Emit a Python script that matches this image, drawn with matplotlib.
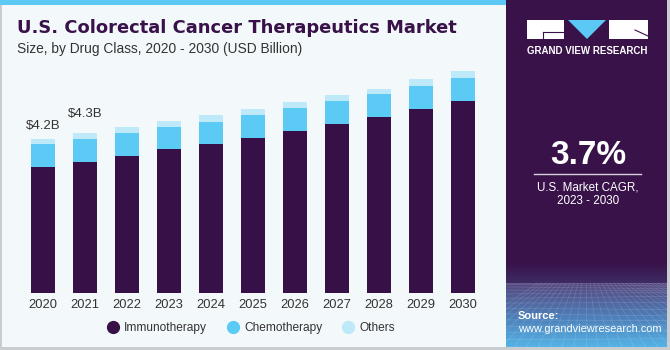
import matplotlib
matplotlib.use("Agg")
import matplotlib.pyplot as plt
import matplotlib.patches as mpatches
import numpy as np

years = ["2020", "2021", "2022", "2023", "2024", "2025", "2026", "2027", "2028", "2029", "2030"]
immunotherapy = [3.44, 3.57, 3.74, 3.92, 4.07, 4.23, 4.42, 4.60, 4.80, 5.01, 5.24]
chemotherapy = [0.62, 0.62, 0.61, 0.60, 0.60, 0.63, 0.62, 0.64, 0.63, 0.64, 0.62]
others = [0.14, 0.17, 0.17, 0.17, 0.17, 0.14, 0.16, 0.16, 0.14, 0.17, 0.19]
series_names = ["Immunotherapy", "Chemotherapy", "Others"]
value_labels = ["$4.2B", "$4.3B"]

C_IMM = "#381048"
C_CHE = "#5BCBF6"
C_OTH = "#BDE9F9"
BG = "#F3F8FB"
DARK = "#381249"

W, H = 670, 350
fig = plt.figure(figsize=(W / 100, H / 100), dpi=100)
fig.patch.set_facecolor("white")

# background layer in pixel coordinates
bg = fig.add_axes([0, 0, 1, 1])
bg.set_xlim(0, W)
bg.set_ylim(H, 0)
bg.axis("off")
bg.add_patch(mpatches.Rectangle((0, 0), 506, H, facecolor=BG, edgecolor="none"))
bg.add_patch(mpatches.Rectangle((0, 0), 2, H, facecolor="#C9CDD1", edgecolor="none"))
bg.add_patch(mpatches.Rectangle((0, 347), 506, 3, facecolor="#C9CDD1", edgecolor="none"))
bg.add_patch(mpatches.Rectangle((0, 0), 506, 5, facecolor="#5BC8F5", edgecolor="none"))
# right panel
bg.add_patch(mpatches.Rectangle((506, 0), 164, H, facecolor=DARK, edgecolor="none"))
g1 = np.linspace(0, 1, 50)[:, None]
cm1 = matplotlib.colors.LinearSegmentedColormap.from_list("g1", [DARK, "#3E2B62"])
bg.imshow(g1, extent=(506, 670, 283, 262), cmap=cm1, aspect="auto", zorder=1)
g2 = np.linspace(0, 1, 100)[:, None]
cm2 = matplotlib.colors.LinearSegmentedColormap.from_list("g2", ["#54477E", "#4E7EB8", "#55B8EA"])
bg.imshow(g2, extent=(506, 670, 350, 283), cmap=cm2, aspect="auto", zorder=1)
# faint mesh
for k in range(14):
    yy = 283 + (k / 13) ** 1.5 * 64
    bg.plot([506, 667], [yy, yy + 2 * np.sin(k)], color="white", lw=0.4, alpha=0.18, zorder=1.5)
for k in range(-12, 26):
    x0 = 586 + k * 4
    x1 = 586 + k * 12
    bg.plot([x0, x1], [283, 347], color="white", lw=0.4, alpha=0.18, zorder=1.5)
bg.add_patch(mpatches.Rectangle((667, 0), 3, H, facecolor="#C9CDD1", edgecolor="none", zorder=2))
bg.add_patch(mpatches.Rectangle((506, 347), 164, 3, facecolor="#C9CDD1", edgecolor="none", zorder=2))

# logo
bg.add_patch(mpatches.Rectangle((527, 20), 37, 19, facecolor="white", edgecolor="none", zorder=3))
bg.add_patch(mpatches.Polygon([(568, 20), (606, 20), (587, 39)], closed=True,
                              facecolor="#5BC8F5", edgecolor="none", zorder=3))
bg.add_patch(mpatches.Rectangle((609, 20), 39, 19, facecolor="white", edgecolor="none", zorder=3))
bg.plot([543, 564], [32, 32], color=DARK, lw=0.8, zorder=4)
bg.plot([543, 543], [32, 39], color=DARK, lw=0.8, zorder=4)
bg.plot([635, 648], [30, 36], color=DARK, lw=0.8, zorder=4)
bg.text(587.5, 50.5, "GRAND VIEW RESEARCH", color="white", fontsize=7.0, fontweight="bold",
        ha="center", va="center", family="Liberation Sans", zorder=4)

bg.text(588, 156, "3.7%", color="white", fontsize=24, fontweight="bold",
        ha="center", va="center", family="Liberation Sans", zorder=4)
bg.plot([534, 641], [173.5, 173.5], color="#D8D0E0", lw=1, zorder=4)
bg.text(588, 187.5, "U.S. Market CAGR,", color="white", fontsize=8.4,
        ha="center", va="center", family="Liberation Sans", zorder=4)
bg.text(588, 201, "2023 - 2030", color="white", fontsize=8.4,
        ha="center", va="center", family="Liberation Sans", zorder=4)
bg.text(518, 316, "Source:", color="white", fontsize=8.0, fontweight="bold",
        ha="left", va="center", family="Liberation Sans", zorder=4)
bg.text(518, 329, "www.grandviewresearch.com", color="white", fontsize=7.9,
        ha="left", va="center", family="Liberation Sans", zorder=4)

# titles
bg.text(17, 28, "U.S. Colorectal Cancer Therapeutics Market", color=DARK, fontsize=12.9,
        fontweight="bold", ha="left", va="center", family="DejaVu Sans")
bg.text(17, 48.5, "Size, by Drug Class, 2020 - 2030 (USD Billion)", color="#333333", fontsize=9.9,
        ha="left", va="center", family="Liberation Sans")

# chart axes: baseline at y=293 px, 36.7 px per billion
left_px, right_px = 22, 484
base_px = 293
ymax = 7.0
height_px = ymax * 36.7
ax = fig.add_axes([left_px / W, (H - base_px) / H, (right_px - left_px) / W, height_px / H])
ax.patch.set_alpha(0)
x = np.arange(len(years))
bw = 24 / 42
ax.bar(x, immunotherapy, width=bw, color=C_IMM, edgecolor="none")
bottom2 = np.array(immunotherapy)
ax.bar(x, chemotherapy, width=bw, bottom=bottom2, color=C_CHE, edgecolor="none")
bottom3 = bottom2 + np.array(chemotherapy)
ax.bar(x, others, width=bw, bottom=bottom3, color=C_OTH, edgecolor="none")
ax.set_xlim(-0.5, len(years) - 0.5)
ax.set_ylim(0, ymax)
for s in ax.spines.values():
    s.set_visible(False)
ax.set_yticks([])
ax.set_xticks(x)
ax.set_xticklabels(years, fontsize=9.3, color="#333333", family="Liberation Sans")
ax.tick_params(axis="x", length=0, pad=4.5)

totals = bottom3 + np.array(others)
offsets = [5, 9]
for i, lab in enumerate(value_labels):
    ax.annotate(lab, (x[i], totals[i]), xytext=(0, offsets[i]), textcoords="offset points",
                ha="center", va="bottom", fontsize=9.5, color="#333333", family="Liberation Sans")

# legend
handles = [plt.Line2D([], [], marker="o", linestyle="none", markersize=8.5, color=c)
           for c in (C_IMM, C_CHE, C_OTH)]
leg = fig.legend(handles, series_names, loc="center", bbox_to_anchor=(251.5 / W, 1 - 328 / H),
                 ncol=3, frameon=False, handlelength=0.8, handletextpad=0.5,
                 columnspacing=1.8, prop={"family": "Liberation Sans", "size": 8.6})
for t in leg.get_texts():
    t.set_color("#333333")

fig.savefig("out.png", dpi=100, facecolor=fig.get_facecolor())
